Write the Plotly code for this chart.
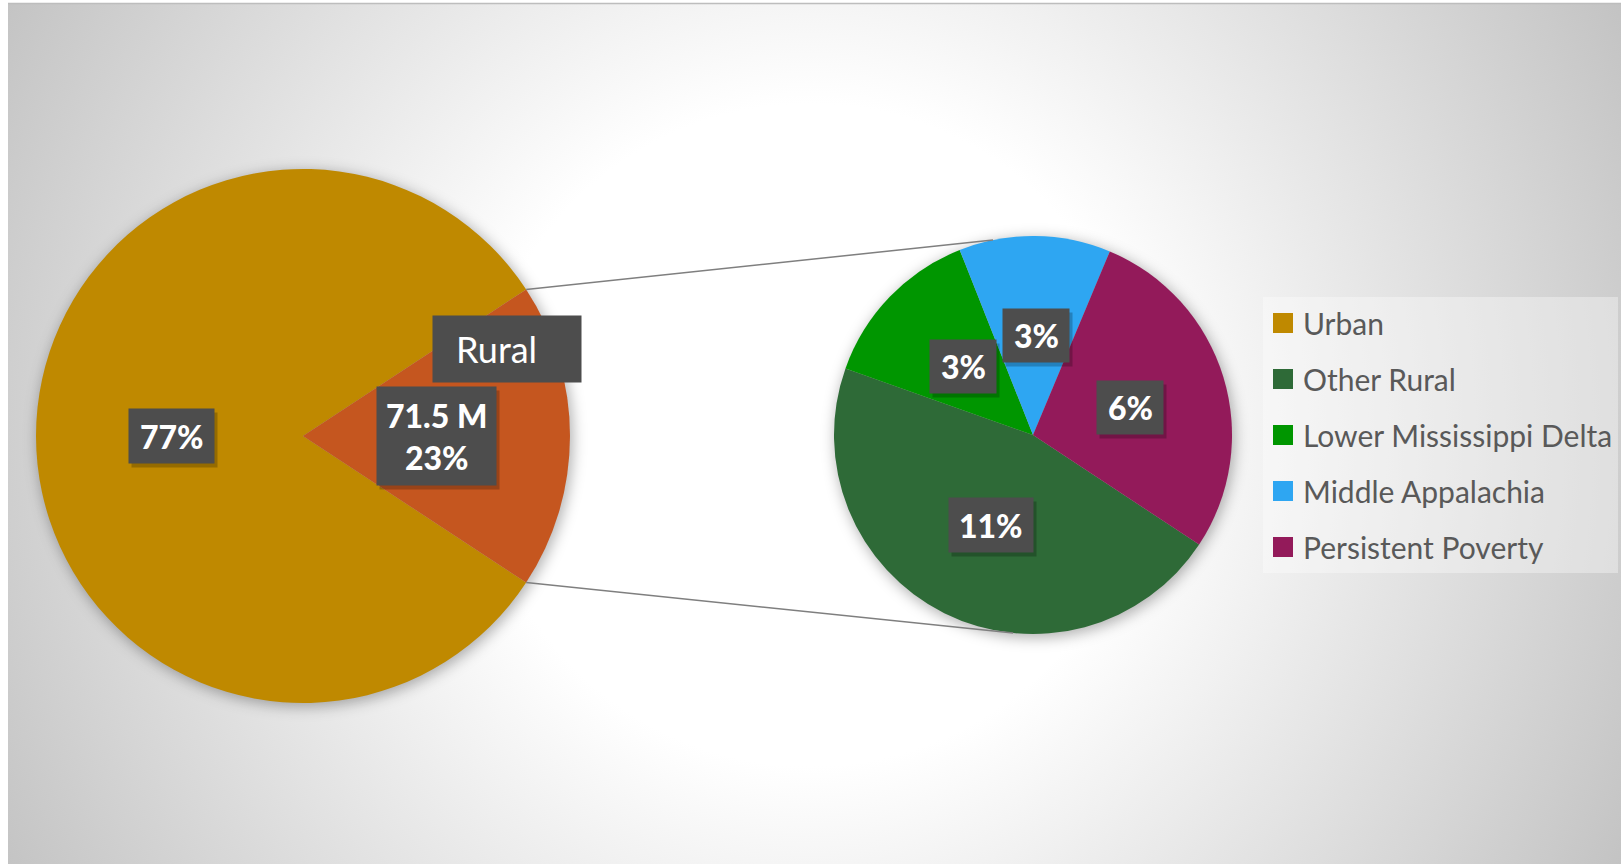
import base64
import math
import plotly.graph_objects as go

W, H = 1621, 864

# ---------------- data ----------------
primary_labels = ["Urban", "Rural"]
primary_values = [81.5, 18.5]          # drawn share of the primary pie
primary_colors = ["#BF8900", "#C5561F"]
primary_text = ["77%", "71.5 M<br>23%"]

secondary_labels = ["Other Rural", "Lower Mississippi Delta", "Middle Appalachia", "Persistent Poverty"]
secondary_values = [33.0, 9.7, 8.8, 20.0]   # millions, sum 71.5
secondary_colors = ["#2E6A37", "#009600", "#2EA6F2", "#931A5A"]
secondary_text = ["11%", "3%", "3%", "6%"]

legend_labels = ["Urban", "Other Rural", "Lower Mississippi Delta", "Middle Appalachia", "Persistent Poverty"]
legend_colors = ["#BF8900", "#2E6A37", "#009600", "#2EA6F2", "#931A5A"]

# ---------------- layout geometry (pixels) ----------------
P_CX, P_CY, P_R = 303, 436, 267
S_CX, S_CY, S_R = 1033, 435, 199


def px_x(x):
    return x / W


def px_y(y):
    return 1 - y / H


rural_half = 180.0 * primary_values[1] / sum(primary_values)
primary_rotation = 90 + rural_half
secondary_rotation = 123.4

# ---------------- background (radial gradient + shadows) ----------------
svg = (
    f'<svg xmlns="http://www.w3.org/2000/svg" width="{W}" height="{H}" viewBox="0 0 {W} {H}" preserveAspectRatio="none">'
    '<defs>'
    '<radialGradient id="g" gradientUnits="userSpaceOnUse" cx="810" cy="435" r="920">'
    '<stop offset="0" stop-color="#ffffff"/><stop offset="0.36" stop-color="#ffffff"/>'
    '<stop offset="1" stop-color="#c3c3c3"/></radialGradient>'
    '<filter id="b" x="-20%" y="-20%" width="140%" height="140%"><feGaussianBlur stdDeviation="7"/></filter>'
    '</defs>'
    f'<rect x="8" y="4" width="{W-8}" height="{H-4}" fill="url(#g)"/>'
    f'<line x1="8" y1="3.5" x2="{W}" y2="3.5" stroke="#bdbdbd" stroke-width="1.5"/>'
    f'<circle cx="{P_CX+2}" cy="{P_CY+3}" r="{P_R+1}" fill="#000" fill-opacity="0.3" filter="url(#b)"/>'
    f'<circle cx="{S_CX+2}" cy="{S_CY+3}" r="{S_R+1}" fill="#000" fill-opacity="0.3" filter="url(#b)"/>'
    '</svg>'
)
bg_src = "data:image/svg+xml;base64," + base64.b64encode(svg.encode()).decode()

fig = go.Figure()

fig.add_trace(go.Pie(
    labels=primary_labels, values=primary_values, sort=False, direction="clockwise",
    rotation=primary_rotation, marker=dict(colors=primary_colors, line=dict(width=0)),
    textinfo="none", hoverinfo="label+percent", showlegend=False,
    domain=dict(x=[px_x(P_CX - P_R), px_x(P_CX + P_R)], y=[px_y(P_CY + P_R), px_y(P_CY - P_R)]),
))

fig.add_trace(go.Pie(
    labels=secondary_labels, values=secondary_values, sort=False, direction="clockwise",
    rotation=secondary_rotation, marker=dict(colors=secondary_colors, line=dict(width=0)),
    textinfo="none", hoverinfo="label+value", showlegend=False,
    domain=dict(x=[px_x(S_CX - S_R), px_x(S_CX + S_R)], y=[px_y(S_CY + S_R), px_y(S_CY - S_R)]),
))

for lab, col in zip(legend_labels, legend_colors):
    fig.add_trace(go.Scatter(
        x=[None], y=[None], mode="markers", name=lab, legendgroup=lab,
        marker=dict(symbol="square", size=16, color=col, line=dict(color=col, width=4)),
    ))

# connector lines
a_up = math.radians(90 - rural_half)
a_dn = math.radians(90 + rural_half)
up_start = (P_CX + P_R * math.sin(a_up), P_CY - P_R * math.cos(a_up))
dn_start = (P_CX + P_R * math.sin(a_dn), P_CY - P_R * math.cos(a_dn))
b_up = math.radians(-11.6)
b_dn = math.radians(185.7)
up_end = (S_CX + S_R * math.sin(b_up), S_CY - S_R * math.cos(b_up))
dn_end = (S_CX + S_R * math.sin(b_dn), S_CY - S_R * math.cos(b_dn))

shapes = []
for s, e in [(up_start, up_end), (dn_start, dn_end)]:
    shapes.append(dict(type="line", xref="paper", yref="paper",
                       x0=px_x(s[0]), y0=px_y(s[1]), x1=px_x(e[0]), y1=px_y(e[1]),
                       line=dict(color="#7f7f7f", width=1.5)))

annotations = []


def box(cx, cy, w, h, color, xshift=0, yshift=0):
    annotations.append(dict(
        text=" ", x=px_x(cx), y=px_y(cy), xref="paper", yref="paper", showarrow=False,
        xanchor="center", yanchor="middle", width=w, height=h, bgcolor=color, borderpad=0,
        xshift=xshift, yshift=yshift, font=dict(family="Lato", size=12, color="rgba(0,0,0,0)"),
    ))


def label_box(text, cx, cy, w, h, size=32, weight=900, shadow=True, text_dx=0):
    if shadow:
        box(cx, cy, w, h, "rgba(0,0,0,0.22)", xshift=3, yshift=-4)
    box(cx, cy, w, h, "#4d4d4d")
    annotations.append(dict(
        text=text, x=px_x(cx + text_dx), y=px_y(cy), xref="paper", yref="paper", showarrow=False,
        xanchor="center", yanchor="middle",
        font=dict(family="Lato", size=size, color="#ffffff", weight=weight),
    ))


label_box(primary_text[0], 171.5, 436, 85, 54)
label_box(primary_text[1], 436.5, 436, 119, 98)
label_box(primary_labels[1], 507, 349, 148, 66, size=36, weight=400, shadow=False, text_dx=-11)
label_box(secondary_text[1], 963, 366, 66, 53)
label_box(secondary_text[2], 1036, 336, 66, 53)
label_box(secondary_text[3], 1130, 407, 66, 53)
label_box(secondary_text[0], 991, 525, 84, 54)

fig.update_layout(
    width=W, height=H, margin=dict(l=0, r=0, t=0, b=0),
    paper_bgcolor="#ffffff", plot_bgcolor="rgba(0,0,0,0)",
    xaxis=dict(visible=False), yaxis=dict(visible=False),
    images=[dict(source=bg_src, xref="paper", yref="paper", x=0, y=1, sizex=1, sizey=1,
                 xanchor="left", yanchor="top", sizing="stretch", layer="below")],
    shapes=shapes, annotations=annotations,
    legend=dict(x=px_x(1263), y=px_y(297), xanchor="left", yanchor="top",
                bgcolor="rgba(255,255,255,0.35)", borderwidth=0,
                font=dict(family="Lato", size=30, color="#595959"),
                tracegroupgap=14, itemsizing="trace"),
    showlegend=True,
)

fig.write_html("out.html")
